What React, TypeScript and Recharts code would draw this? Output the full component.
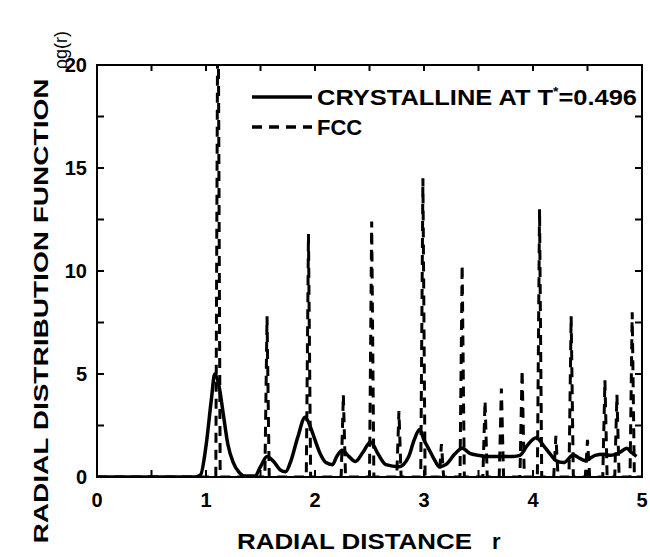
import React from 'react';
import { LineChart, Line, XAxis, YAxis, Legend } from 'recharts';

const X_TICKS = [0, 0.5, 1, 1.5, 2, 2.5, 3, 3.5, 4, 4.5, 5];
const Y_TICKS = [0, 2.5, 5, 7.5, 10, 12.5, 15, 17.5, 20];
const X_MAX = 5;
const Y_MAX = 20;

// crystalline g(r) at T*=0.496 (solid)
const CRYSTAL_R = [
  0, 0.5, 0.9, 0.95, 1.0, 1.05, 1.08, 1.12, 1.16, 1.2, 1.25, 1.3, 1.35, 1.45, 1.5, 1.56, 1.62, 1.68,
  1.73, 1.78, 1.84, 1.91, 1.96, 2.0, 2.05, 2.1, 2.16, 2.2, 2.25, 2.31, 2.37, 2.44, 2.51, 2.58, 2.65,
  2.77, 2.86, 2.91, 2.96, 3.0, 3.05, 3.1, 3.14, 3.2, 3.28, 3.35, 3.42, 3.5, 3.57, 3.72, 3.82, 3.88,
  3.95, 4.03, 4.1, 4.16, 4.21, 4.28, 4.37, 4.43, 4.48, 4.57, 4.65, 4.71, 4.8, 4.86, 4.9, 4.95,
];
const CRYSTAL_G = [
  0, 0, 0, 0.1, 1.5, 3.8, 5.0, 4.4, 3.0, 1.6, 0.7, 0.25, 0.05, 0.05, 0.5, 1.0, 0.75, 0.35,
  0.25, 0.8, 1.9, 2.9, 2.4, 1.8, 1.1, 0.7, 0.6, 1.0, 1.3, 1.0, 0.75, 1.2, 1.7, 1.1, 0.6,
  0.5, 1.0, 1.8, 2.3, 1.8, 1.3, 0.8, 0.5, 0.6, 1.1, 1.4, 1.15, 1.05, 1.0, 1.0, 1.0, 1.05,
  1.55, 1.9, 1.5, 1.1, 0.8, 0.7, 1.07, 0.9, 0.8, 1.05, 1.1, 1.05, 1.2, 1.4, 1.2, 1.0,
];

// ideal FCC lattice peaks (dashed)
const FCC_R = [
  0, 1.09, 1.11, 1.13, 1.54, 1.56, 1.58, 1.92, 1.94, 1.96, 2.24, 2.26, 2.28, 2.5, 2.52, 2.54,
  2.75, 2.77, 2.79, 2.97, 2.99, 3.01, 3.14, 3.16, 3.18, 3.33, 3.35, 3.37, 3.54, 3.56, 3.58,
  3.69, 3.71, 3.73, 3.88, 3.9, 3.92, 4.04, 4.06, 4.08, 4.19, 4.21, 4.23, 4.33, 4.35, 4.37,
  4.48, 4.5, 4.52, 4.64, 4.66, 4.68, 4.75, 4.77, 4.79, 4.89, 4.91, 4.93, 5.0,
];
const FCC_G = [
  0, 0, 26, 0, 0, 7.8, 0, 0, 11.8, 0, 0, 4.0, 0, 0, 12.4, 0,
  0, 3.2, 0, 0, 14.5, 0, 0, 1.6, 0, 0, 10.3, 0, 0, 3.7, 0,
  0, 4.3, 0, 0, 5.2, 0, 0, 13.0, 0, 0, 2.0, 0, 0, 7.8, 0,
  0, 1.8, 0, 0, 4.7, 0, 0, 4.0, 0, 0, 8.0, 0, 0,
];

const crystalData = CRYSTAL_R.map((r, i) => ({ r, g: CRYSTAL_G[i] }));
const fccData = FCC_R.map((r, i) => ({ r, g: FCC_G[i] }));

const W = 650;
const H = 557;
const M_TOP = 65;
const M_RIGHT = 8;
const Y_AXIS_W = 97;
const X_AXIS_H = 80;
// plot box, derived from the margins above
const P_LEFT = Y_AXIS_W;
const P_RIGHT = W - M_RIGHT;
const P_TOP = M_TOP;
const P_BOTTOM = H - X_AXIS_H;
const px = (v: number) => P_LEFT + (v / X_MAX) * (P_RIGHT - P_LEFT);
const py = (v: number) => P_BOTTOM - (v / Y_MAX) * (P_BOTTOM - P_TOP);
const TICK = 7;
const LW = 2;

const FONT = '"Liberation Sans", Arial, Helvetica, sans-serif';
const tickStyle = { fontFamily: FONT, fontWeight: 'bold' as const, fontSize: 20, fill: '#000' };
const axisLine = { stroke: '#000', strokeWidth: 2 };

const LegendBox = () => (
  <svg width={400} height={60} style={{ overflow: 'visible' }}>
    <line x1={2} y1={17} x2={62} y2={17} stroke="#000" strokeWidth={3.5} />
    <text x={67} y={25} fontFamily={FONT} fontWeight="bold" fontSize={22} textLength={320} lengthAdjust="spacingAndGlyphs">
      CRYSTALLINE AT T<tspan dy={-9} fontSize={12}>*</tspan><tspan dy={9}>=0.496</tspan>
    </text>
    <line x1={2} y1={47} x2={62} y2={47} stroke="#000" strokeWidth={3.5} strokeDasharray="10 7" />
    <text x={67} y={55} fontFamily={FONT} fontWeight="bold" fontSize={22}>FCC</text>
  </svg>
);

export default function App() {
  return (
    <div style={{ position: 'absolute', left: 0, top: 0, width: W, height: H, background: '#fff' }}>
      <LineChart width={W} height={H} margin={{ top: M_TOP, right: M_RIGHT, bottom: 0, left: 0 }}>
        <XAxis
          type="number"
          dataKey="r"
          domain={[0, X_MAX]}
          ticks={X_TICKS}
          allowDataOverflow
          height={X_AXIS_H}
          tickSize={-TICK}
          tickMargin={23}
          tick={tickStyle}
          tickFormatter={(v: number) => (Number.isInteger(v) ? String(v) : '')}
          axisLine={axisLine}
          tickLine={false}
        />
        <YAxis
          type="number"
          domain={[0, Y_MAX]}
          ticks={Y_TICKS}
          allowDataOverflow
          width={Y_AXIS_W}
          tickSize={-TICK}
          tickMargin={17}
          tick={tickStyle}
          tickFormatter={(v: number) => (v % 5 === 0 ? String(v) : '')}
          axisLine={axisLine}
          tickLine={false}
        />
        <Legend
          layout="horizontal"
          verticalAlign="middle"
          align="center"
          content={() => <LegendBox />}
          wrapperStyle={{ left: 250, top: 80, width: 400 }}
        />
        <Line
          data={fccData}
          dataKey="g"
          type="linear"
          stroke="#000"
          strokeWidth={3}
          strokeDasharray="10 7"
          dot={false}
          isAnimationActive={false}
        />
        <Line
          data={crystalData}
          dataKey="g"
          type="monotone"
          stroke="#000"
          strokeWidth={3.5}
          dot={false}
          isAnimationActive={false}
        />
      </LineChart>
      <svg width={W} height={H} style={{ position: 'absolute', left: 0, top: 0, pointerEvents: 'none' }}>
        {/* frame edges and inward ticks as filled bars */}
        <g fill="#000">
          <rect x={P_LEFT - LW / 2} y={P_TOP - LW / 2} width={P_RIGHT - P_LEFT + LW} height={LW} />
          <rect x={P_RIGHT - LW / 2} y={P_TOP - LW / 2} width={LW} height={P_BOTTOM - P_TOP + LW} />
          <rect x={P_LEFT - LW / 2} y={P_BOTTOM - LW / 2} width={P_RIGHT - P_LEFT + LW} height={LW} />
          <rect x={P_LEFT - LW / 2} y={P_TOP - LW / 2} width={LW} height={P_BOTTOM - P_TOP + LW} />
          {X_TICKS.map((t) => (
            <React.Fragment key={`x-${t}`}>
              <rect x={px(t) - LW / 2} y={P_BOTTOM - TICK} width={LW} height={TICK} />
              <rect x={px(t) - LW / 2} y={P_TOP} width={LW} height={TICK - 1} />
            </React.Fragment>
          ))}
          {Y_TICKS.map((t) => (
            <React.Fragment key={`y-${t}`}>
              <rect x={P_LEFT} y={py(t) - LW / 2} width={TICK} height={LW} />
              <rect x={P_RIGHT - TICK} y={py(t) - LW / 2} width={TICK} height={LW} />
            </React.Fragment>
          ))}
        </g>
        <text
          x={40}
          y={311}
          transform="rotate(-90, 40, 311)"
          textAnchor="middle"
          dominantBaseline="central"
          fontFamily={FONT}
          fontWeight="bold"
          fontSize={21}
          textLength={465}
          lengthAdjust="spacingAndGlyphs"
        >
          RADIAL DISTRIBUTION FUNCTION
        </text>
        <text
          x={61}
          y={50}
          transform="rotate(-90, 61, 50)"
          textAnchor="middle"
          dominantBaseline="central"
          fontFamily={FONT}
          fontSize={18}
        >
          ρg(r)
        </text>
        <text x={237} y={549} fontFamily={FONT} fontWeight="bold" fontSize={22} textLength={235} lengthAdjust="spacingAndGlyphs">
          RADIAL DISTANCE
        </text>
        <text x={492} y={549} fontFamily={FONT} fontWeight="bold" fontSize={22}>
          r
        </text>
      </svg>
    </div>
  );
}
